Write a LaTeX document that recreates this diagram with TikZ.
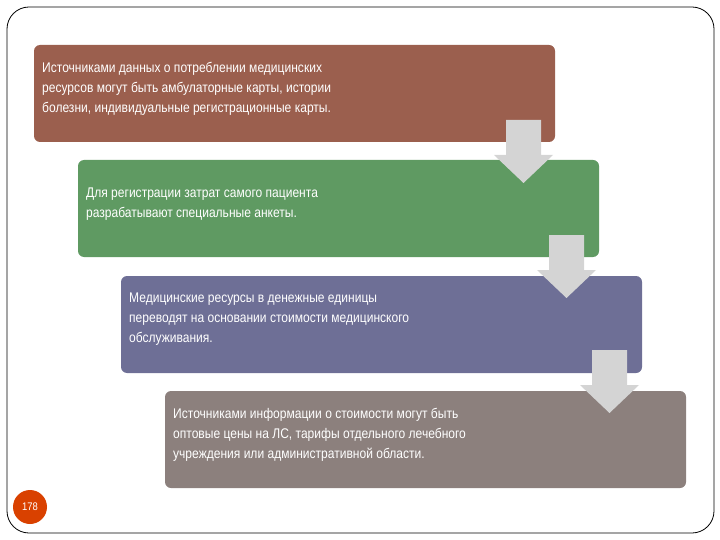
\documentclass[tikz,border=0pt]{standalone}
\usepackage{fontspec}
\setmainfont{Liberation Sans}[FakeStretch=0.86]
\begin{document}
\begin{tikzpicture}[x=1pt,y=-1pt,
  box/.style={rounded corners=6pt,inner sep=0pt},
  txt/.style={anchor=north west,align=left,text=white,font=\fontsize{14}{20}\selectfont,inner sep=0pt},
  arr/.style={fill=black!17,draw=none}]
\useasboundingbox (0,0) rectangle (720,540);
\draw[rounded corners=22pt,line width=0.8pt] (7,7) rectangle (714,533);
\definecolor{c1}{HTML}{9B5F4E}\definecolor{c2}{HTML}{5F9A62}
\definecolor{c3}{HTML}{6E6F96}\definecolor{c4}{HTML}{8C807D}
\fill[c1,box] (34,45) rectangle (555,142);
\fill[c2,box] (78,160) rectangle (599,257);
\fill[c3,box] (121,276) rectangle (642,373);
\fill[c4,box] (165,391) rectangle (686,488);
\foreach \x/\y in {494/120,537/235,580/350}{
  \fill[arr] (\x+12,\y) -- (\x+47,\y) -- (\x+47,\y+35) -- (\x+59,\y+35) -- (\x+29.5,\y+63) -- (\x,\y+35) -- (\x+12,\y+35) -- cycle;}
\node[txt] (t1) at (42,62) {Источниками данных о потреблении медицинских\\ресурсов могут быть амбулаторные карты, истории\\болезни, индивидуальные регистрационные карты.};
\node[txt] (t2) at (86,188) {Для регистрации затрат самого пациента\\разрабатывают специальные анкеты.};
\node[txt] (t3) at (129,293) {Медицинские ресурсы в денежные единицы\\переводят на основании стоимости медицинского\\обслуживания.};
\node[txt] (t4) at (173,408) {Источниками информации о стоимости могут быть\\оптовые цены на ЛС, тарифы отдельного лечебного\\учреждения или административной области.};
\node[circle,fill=orange!60!red!85!black,minimum size=34pt,inner sep=0pt,text=white,font=\fontsize{11}{11}\selectfont] (p) at (30,507) {178};
\end{tikzpicture}
\end{document}
